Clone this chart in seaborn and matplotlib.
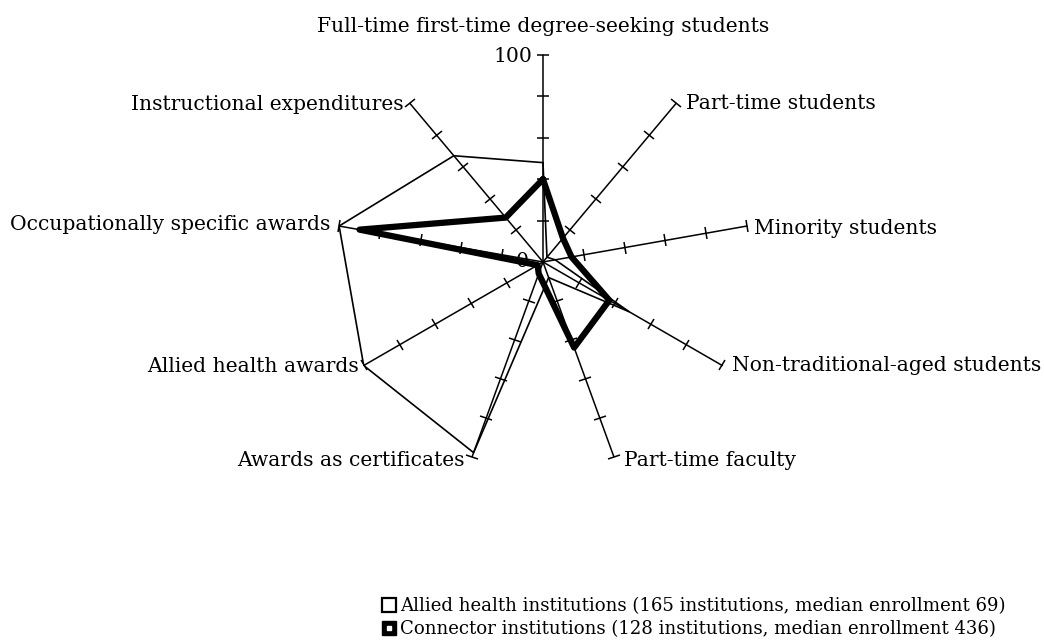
import numpy as np
import pandas as pd
import seaborn as sns
import matplotlib.pyplot as plt
from matplotlib.markers import MarkerStyle
from matplotlib.transforms import Affine2D
from matplotlib.lines import Line2D

# axes, clockwise from the top
categories = ["Full-time first-time degree-seeking students", "Part-time students",
              "Minority students", "Non-traditional-aged students", "Part-time faculty",
              "Awards as certificates", "Allied health awards",
              "Occupationally specific awards", "Instructional expenditures"]
allied = [48, 3, 6, 48, 8, 98, 100, 100, 67]
connector = [40, 15, 14, 37, 44, 6, 3, 90, 28]
tick_values = [20, 40, 60, 80, 100]
series_names = ["Allied health institutions (165 institutions, median enrollment 69)",
                "Connector institutions (128 institutions, median enrollment 436)"]

sns.set_theme(style="white")
plt.rcParams['font.family'] = ['DejaVu Serif', 'Liberation Serif']
plt.rcParams['text.color'] = 'black'

n = len(categories)
angles = np.linspace(0, 2 * np.pi, n, endpoint=False)

rows = []
for name, vals in zip(series_names, [allied, connector]):
    for i in range(n + 1):
        rows.append({"series": name, "theta": angles[i % n], "value": vals[i % n]})
df = pd.DataFrame(rows)

fig = plt.figure(figsize=(10.44, 6.43), dpi=100)
ax = fig.add_axes([0.3218, 0.2706, 0.3966, 0.6439], projection='polar')
ax.set_theta_offset(np.pi / 2)
ax.set_theta_direction(-1)
ax.grid(False)
ax.spines['polar'].set_visible(False)
ax.set_xticks([])
ax.set_yticks([])
ax.patch.set_alpha(0)

# spokes with perpendicular tick marks
for theta in angles:
    ax.plot([theta, theta], [0, 100], color='black', lw=1.1, clip_on=False)
    tick = MarkerStyle('_', transform=Affine2D().rotate_deg(-np.degrees(theta)))
    ax.plot([theta] * len(tick_values), tick_values, ls='none', marker=tick,
            markersize=9, markeredgewidth=1.1, color='black', clip_on=False)

sns.lineplot(data=df[df.series == series_names[0]], x="theta", y="value", sort=False,
             estimator=None, color='black', lw=1.2, ax=ax)
sns.lineplot(data=df[df.series == series_names[1]], x="theta", y="value", sort=False,
             estimator=None, color='black', lw=4.5, ax=ax)
ax.set_xlabel('')
ax.set_ylabel('')
ax.set_ylim(0, 100)

# labels at spoke ends
fs = 14.6
offsets = [(0, 28, 'center'), (10, 0, 'left'), (7, -2, 'left'), (10, 0, 'left'),
           (10, -4, 'left'), (-8, -4, 'right'), (-5, -1, 'right'), (-9, 2, 'right'),
           (-6, -1, 'right')]
for theta, label, (dx, dy, ha) in zip(angles, categories, offsets):
    ax.annotate(label, xy=(theta, 100), xytext=(dx, dy), textcoords='offset pixels',
                ha=ha, va='center', fontsize=fs, annotation_clip=False)
ax.annotate("100", xy=(0, 100), xytext=(-11, -2), textcoords='offset pixels',
            ha='right', va='center', fontsize=fs, annotation_clip=False)
ax.annotate("0", xy=(0, 0), xytext=(-21, 0), textcoords='offset pixels',
            ha='center', va='center', fontsize=fs, annotation_clip=False)

h1 = Line2D([], [], ls='none', marker='s', markersize=10, markerfacecolor='white',
            markeredgecolor='black', markeredgewidth=1.6)
h2 = (Line2D([], [], ls='none', marker='s', markersize=10, color='black'),
      Line2D([], [], ls='none', marker='s', markersize=2.5, color='white'))
fig.legend([h1, h2], series_names, loc='upper left', bbox_to_anchor=(0.366, 0.071),
           frameon=False, fontsize=13.1, handlelength=0.8, handletextpad=0.2,
           labelspacing=0.25, borderpad=0, borderaxespad=0)

fig.savefig("out.png", dpi=100)
